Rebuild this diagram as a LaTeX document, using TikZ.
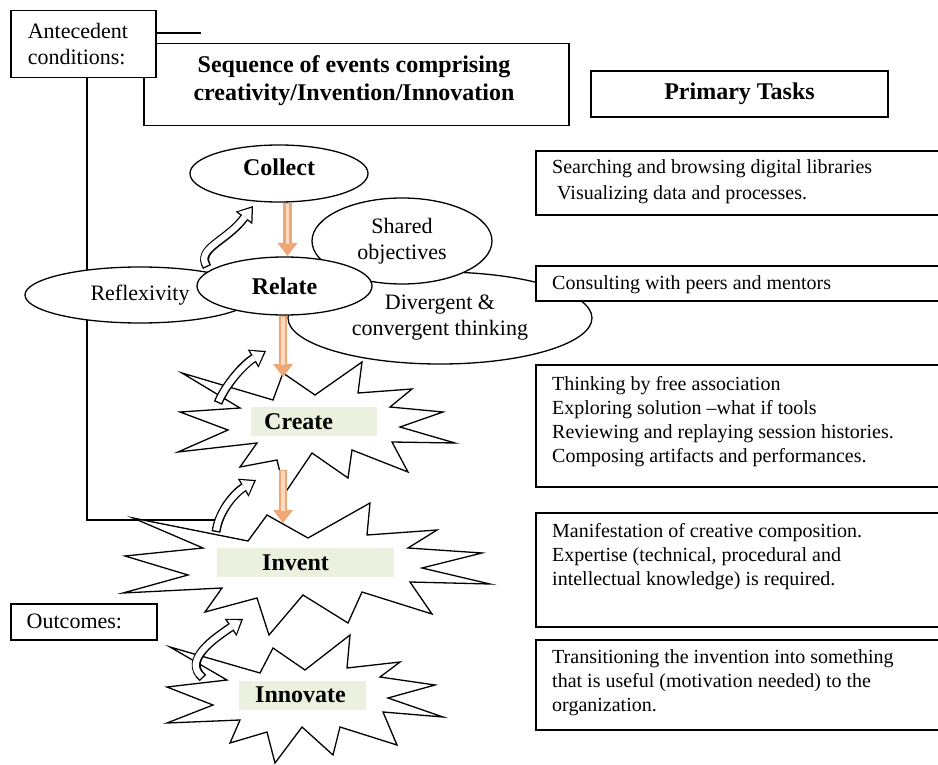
\documentclass[tikz,border=0pt]{standalone}
\usepackage{fontspec}
\setmainfont{Liberation Serif}
\usetikzlibrary{shapes.geometric,arrows.meta}
\definecolor{labgreen}{RGB}{235,241,222}
\definecolor{oedge}{RGB}{238,168,118}
\definecolor{ocenter}{RGB}{252,218,192}
\newcommand\fontLeft{\fontsize{22}{26}\selectfont}
\newcommand\fontRight{\fontsize{20}{24}\selectfont}
\newcommand\fontBold{\bfseries\fontsize{24}{28}\selectfont}
\tikzset{
  box/.style={draw, line width=1.5pt, fill=white, inner sep=0pt},
  ell/.style={ellipse, draw, line width=1.3pt, fill=white, inner sep=0pt, font=\fontLeft, align=center},
  star/.style={draw, line width=1.3pt, fill=white, line join=miter, miter limit=30},
  lab/.style={fill=labgreen, inner ysep=0pt, minimum height=29pt, font=\fontBold, align=left, anchor=west},
  rtext/.style={inner sep=0pt, font=\fontRight, align=left, anchor=north west},
  lline/.style={line width=1.5pt},
  oarr/.style={line width=8.5pt, draw=oedge, -{Triangle[width=20pt,length=13pt,line width=0pt]}},
  oarrc/.style={line width=3.5pt, draw=ocenter, shorten >=12pt, shorten <=0.8pt},
  cout/.style={line width=9pt, draw=black, -{Triangle[width=21pt,length=15pt,line width=0pt]}},
  cin/.style={line width=6.2pt, draw=white, shorten <=1.4pt, shorten >=2.4pt, -{Triangle[width=16.4pt,length=11.2pt,line width=0pt]}}
}
\begin{document}
\begin{tikzpicture}[x=1pt,y=-1pt]
\useasboundingbox (0,0) rectangle (938,765);
\clip (0,0) rectangle (938,765);

% title box
\node[box, anchor=north west, minimum width=425pt, minimum height=82pt] (seq) at (143,43) {};
\node[font=\fontBold, align=center, inner sep=0pt] (seqtxt) at (354,81) {Sequence of events comprising\\creativity/Invention/Innovation};

% antecedent box and its lines
\node[box, anchor=north west, minimum width=145pt, minimum height=67pt, font=\fontLeft, align=left, text width=111pt, inner xsep=17pt] (ante) at (10,10) {Antecedent\\conditions:};
\coordinate (tline) at (201,33);
\draw[lline] (ante.east |- tline) -- (tline);
\coordinate (lend) at (222,520);
\draw[lline] (ante.south west) ++(77,0) |- (lend);

% primary tasks
\node[box, minimum width=297pt, minimum height=46pt, font=\fontBold] (primary) at (739.5,94) {Primary Tasks};

% ellipses
\node[ell, minimum width=304pt, minimum height=92pt] (div) at (440,318) {Divergent \&\\convergent thinking};
\node[ell, minimum width=180pt, minimum height=86pt] (shared) at (402,241) {Shared\\objectives};
\node[ell, minimum width=230pt, minimum height=56pt] (refl) at (140,295) {Reflexivity};
\node[ell, minimum width=175pt, minimum height=58pt, font=\fontBold] (relate) at (284.5,286) {Relate};
\node[ell, minimum width=178pt, minimum height=57pt, font=\fontBold, text depth=13pt] (collect) at (279,173.5) {Collect};

% right task boxes
\draw[box] (536,151) rectangle (950,215);
\node[rtext] (t1) at (552,159) {Searching and browsing digital libraries\\[2pt]\hspace{5pt}Visualizing data and processes.};
\draw[box] (536,266) rectangle (950,301);
\node[rtext] (t2) at (552,275) {Consulting with peers and mentors};
\draw[box] (536,365) rectangle (950,487);
\node[rtext] (t3) at (552,376) {Thinking by free association\\Exploring solution –what if tools\\Reviewing and replaying session histories.\\Composing artifacts and performances.};
\draw[box] (536,513) rectangle (950,627);
\node[rtext] (t4) at (552,523) {Manifestation of creative composition.\\Expertise (technical, procedural and\\intellectual knowledge) is required.};
\draw[box] (536,640) rectangle (950,730);
\node[rtext] (t5) at (552,649) {Transitioning the invention into something\\that is useful (motivation needed) to the\\organization.};

% outcomes
\node[box, anchor=north west, minimum width=146pt, minimum height=36pt, font=\fontLeft, text width=114pt, inner xsep=16pt, align=left] (outc) at (10,603) {Outcomes:};

% stars
\draw[star] (170,647) -- (260,673) -- (273,648) -- (305,670) -- (350,635) -- (347,668) -- (400,662) -- (380,677) -- (435,685) -- (388,698) -- (443,717) -- (383,712) -- (397,745) -- (340,727) -- (333,755) -- (302,727) -- (275,763) -- (267,732) -- (230,743) -- (240,720) -- (167,723) -- (213,705) -- (167,687) -- (227,680) -- cycle;
\draw[star] (133,518) -- (248,541) -- (267,515) -- (308,538) -- (370,503) -- (367,535) -- (437,530) -- (408,548) -- (482,553) -- (422,568) -- (490,584) -- (410,582) -- (432,614) -- (362,592) -- (348,623) -- (303,595) -- (269,635) -- (257,598) -- (205,612) -- (222,588) -- (123,593) -- (188,575) -- (125,556) -- (203,548) -- cycle;
\draw[star] (182,373) -- (273,400) -- (283,373) -- (315,395) -- (362,362) -- (358,393) -- (412,389) -- (390,407) -- (443,412) -- (400,427) -- (455,443) -- (392,442) -- (408,472) -- (352,450) -- (348,478) -- (312,453) -- (285,493) -- (277,460) -- (240,467) -- (257,443) -- (178,452) -- (228,430) -- (180,412) -- (240,408) -- cycle;

% stage labels
\node[lab, text width=100pt, inner xsep=13pt] (create) at (251,421.5) {Create};
\node[lab, text width=87pt, inner xsep=45pt] (invent) at (217,562.5) {Invent};
\node[lab, text width=95pt, inner xsep=16pt] (innovate) at (239,695) {Innovate};

% orange flow arrows
\coordinate (o1s) at (287.5,203); \coordinate (o1e) at (287.5,256);
\coordinate (o2s) at (283,316); \coordinate (o2e) at (283,377);
\coordinate (o3s) at (283,470); \coordinate (o3e) at (283,523);
\foreach \a/\b in {o1s/o1e, o2s/o2e, o3s/o3e} {
  \draw[oarr] (\a) -- (\b);
  \draw[oarrc] (\a) -- (\b);
}

% curved feedback arrows
\coordinate (c1s) at (207,267); \coordinate (c1e) at (253,206);
\coordinate (c2s) at (218,403); \coordinate (c2e) at (266,351);
\coordinate (c3s) at (216,532); \coordinate (c3e) at (256,480);
\coordinate (c4s) at (203,678); \coordinate (c4e) at (243,619);
\draw[cout] (c1s) .. controls (196,248) and (226,242) .. (c1e);
\draw[cin]  (c1s) .. controls (196,248) and (226,242) .. (c1e);
\draw[cout] (c2s) .. controls (226,384) and (244,364) .. (c2e);
\draw[cin]  (c2s) .. controls (226,384) and (244,364) .. (c2e);
\draw[cout] (c3s) .. controls (219,510) and (236,492) .. (c3e);
\draw[cin]  (c3s) .. controls (219,510) and (236,492) .. (c3e);
\draw[cout] (c4s) .. controls (182,660) and (215,638) .. (c4e);
\draw[cin]  (c4s) .. controls (182,660) and (215,638) .. (c4e);
\end{tikzpicture}
\end{document}
